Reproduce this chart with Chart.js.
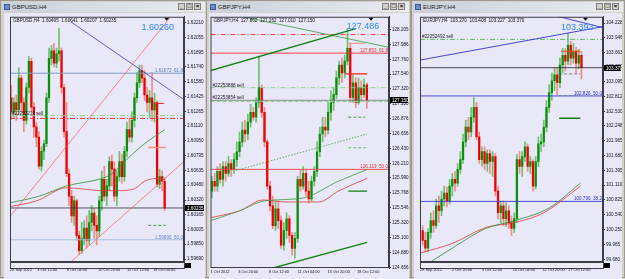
<!DOCTYPE html>
<html><head><meta charset="utf-8">
<script src="https://cdn.jsdelivr.net/npm/chart.js@4.4.0/dist/chart.umd.min.js"></script>
<style>
html,body{margin:0;padding:0;background:#d4d0c8;width:625px;height:279px;overflow:hidden;font-family:"Liberation Sans",Arial,sans-serif;}
.win{position:absolute;top:0;height:278px;background:#d4d0c8;border:1px solid #9c9a94;box-sizing:border-box;}
.tb{position:absolute;left:1px;right:1px;top:1px;height:10px;background:linear-gradient(to right,#c9cfdb,#e9ebf0);}
.tb span{position:absolute;left:10px;top:1px;font-size:6px;color:#222;line-height:8px;}
.tb i{position:absolute;left:2px;top:2px;width:6px;height:6px;background:#6a8cc8;border:1px solid #3a5a98;box-sizing:border-box;}
.bt{position:absolute;top:1px;width:7px;height:7px;background:#d4d0c8;border:1px solid #808080;box-sizing:border-box;font-size:6px;line-height:5px;text-align:center;color:#000;font-weight:bold;}
canvas{position:absolute;}
</style></head><body>
<div class="win" style="left:0;width:207px"><div class="tb"><i></i><span>GBPUSD,H4</span><b class="bt" style="right:20px">_</b><b class="bt" style="right:12px">□</b><b class="bt" style="right:4px">×</b></div></div>
<div class="win" style="left:206px;width:205px"><div class="tb"><i></i><span>GBPJPY,H4</span><b class="bt" style="right:20px">_</b><b class="bt" style="right:12px">□</b><b class="bt" style="right:4px">×</b></div></div>
<div class="win" style="left:411px;width:214px"><div class="tb"><i></i><span>EURJPY,H4</span><b class="bt" style="right:20px">_</b><b class="bt" style="right:12px">□</b><b class="bt" style="right:4px">×</b></div></div>
<canvas id="c1" width="201" height="266" style="left:4px;top:13px"></canvas>
<canvas id="c2" width="200" height="266" style="left:209px;top:13px"></canvas>
<canvas id="c3" width="208" height="266" style="left:414px;top:13px"></canvas>
<script>
// ================= GBPUSD,H4 =================
const gbpusdOpen = [1.6141,1.6126,1.6136,1.6128,1.6162,1.6136,1.6117,1.6152,1.6180,1.6131,
1.6110,1.6099,1.6068,1.6084,1.6092,1.6141,1.6183,1.6191,1.6178,1.6188,
1.6191,1.6152,1.6105,1.6060,1.6036,1.6015,1.6031,1.5994,1.5978,1.5991,
1.6002,1.5989,1.6008,1.6018,1.6005,1.5999,1.6031,1.6054,1.6036,1.6047,
1.6073,1.6065,1.6036,1.6057,1.6073,1.6057,1.6084,1.6107,1.6099,1.6117,
1.6141,1.6157,1.6170,1.6162,1.6144,1.6136,1.6141,1.6128,1.6136,1.6049,
1.6057,1.6052];
const gbpusdHigh = [1.6154,1.6141,1.6144,1.6173,1.6165,1.6141,1.6157,1.6185,1.6183,1.6136,
1.6115,1.6105,1.6089,1.6096,1.6146,1.6194,1.6197,1.6199,1.6194,1.6215,
1.6194,1.6155,1.6136,1.6065,1.6042,1.6036,1.6033,1.5999,1.6008,1.6010,
1.6015,1.6021,1.6026,1.6023,1.6015,1.6036,1.6063,1.6068,1.6054,1.6078,
1.6080,1.6073,1.6063,1.6084,1.6081,1.6089,1.6115,1.6120,1.6126,1.6146,
1.6168,1.6176,1.6176,1.6170,1.6152,1.6149,1.6168,1.6146,1.6138,1.6065,
1.6063,1.6056];
const gbpusdLow = [1.6118,1.6120,1.6117,1.6123,1.6126,1.6105,1.6113,1.6146,1.6126,1.6099,
1.6089,1.6065,1.6063,1.6075,1.6089,1.6136,1.6176,1.6174,1.6173,1.6180,
1.6146,1.6099,1.6057,1.6026,1.6008,1.6005,1.5989,1.5974,1.5975,1.5984,
1.5981,1.5984,1.5999,1.5991,1.5984,1.5993,1.6021,1.6031,1.6026,1.6042,
1.6047,1.6031,1.6026,1.6052,1.6050,1.6052,1.6078,1.6094,1.6094,1.6110,
1.6136,1.6152,1.6157,1.6138,1.6126,1.6120,1.6117,1.6115,1.6046,1.6044,
1.6042,1.6021];
const gbpusdClose = [1.6126,1.6136,1.6128,1.6162,1.6136,1.6117,1.6152,1.6180,1.6131,1.6110,
1.6099,1.6068,1.6084,1.6092,1.6141,1.6183,1.6191,1.6178,1.6188,1.6191,
1.6152,1.6105,1.6060,1.6036,1.6015,1.6031,1.5994,1.5978,1.5991,1.6002,
1.5989,1.6008,1.6018,1.6005,1.5999,1.6031,1.6054,1.6036,1.6047,1.6073,
1.6065,1.6036,1.6057,1.6073,1.6057,1.6084,1.6107,1.6099,1.6117,1.6141,
1.6157,1.6170,1.6162,1.6144,1.6136,1.6141,1.6128,1.6136,1.6049,1.6057,
1.6052,1.60235];
const gbpusdYTicks = ['1.62210','1.62055','1.61895','1.61740','1.61580','1.61425','1.61265','1.61110','1.60950','1.60795','1.60635','1.60480','1.60320','1.60165','1.60005','1.59850','1.59690'];
const gbpusdXTicks = ['28 Sep 2012','3 Oct 12:00','8 Oct 04:00','10 Oct 20:00','15 Oct 12:00','18 Oct 04:00'];
const gbpusdXTickBars = [-0.5, 10.3, 22.2, 34.5, 46, 56.4];
const gbpusdMaGreen = [[-0.5,1.6029],[11,1.6036],[22,1.6047],[36,1.6055],[40,1.6060],[47,1.6078],[53,1.6092],[61,1.6107]];
const gbpusdMaRed = [[-0.5,1.6025],[10,1.6031],[22,1.6045],[27.5,1.6044],[36,1.6042],[43,1.6042],[49,1.6044],[53,1.6052],[58,1.6055],[61,1.6054]];
const gbpusdBlueTrend = [[23.7,1.6222],[68.7,1.6139]];
const gbpusdRedTrendUp = [[-0.9,1.6013],[63.3,1.6227]];
const gbpusdRedTrendLow = [[23.7,1.5966],[68.7,1.6073]];
const gbpusdLevels = {fib618:1.61672, fib50:1.59896, sellGreen:1.6122, sellRed:1.6119, bid:1.60235};

// ================= GBPJPY,H4 =================
const gbpjpyOpen = [125.794,125.941,125.868,126.088,125.970,126.162,126.059,126.206,126.117,126.264,
126.382,126.529,126.705,126.647,126.823,126.970,126.897,127.117,127.338,126.970,
126.529,125.868,125.574,125.280,125.529,125.353,124.986,125.206,125.382,125.133,
124.941,125.088,125.970,125.868,126.059,125.794,125.676,125.941,126.088,126.382,
126.647,126.750,126.705,126.970,127.117,127.235,127.485,127.676,127.558,127.734,
127.926,127.191,127.411,127.117,127.338,127.235,127.382];
const gbpjpyHigh = [126.015,126.059,126.162,126.206,126.235,126.235,126.309,126.264,126.353,126.529,
126.676,126.823,126.852,126.941,127.088,127.044,127.191,127.808,127.382,127.044,
126.558,125.941,125.721,125.647,125.647,125.427,125.324,125.471,125.427,125.177,
125.177,126.015,126.117,126.162,126.117,125.941,126.015,126.162,126.529,126.750,
126.897,126.897,127.117,127.293,127.338,127.587,127.734,127.779,127.823,128.220,
127.999,127.529,127.485,127.485,127.440,127.470,127.411];
const gbpjpyLow = [125.691,125.794,125.794,125.912,125.868,125.941,126.015,126.015,126.059,126.162,
126.309,126.456,126.529,126.558,126.750,126.852,126.823,127.044,126.897,126.456,
125.823,125.500,125.235,125.206,125.235,124.941,124.912,125.088,125.030,124.839,
124.794,125.030,125.794,125.823,125.721,125.618,125.647,125.868,126.015,126.309,
126.529,126.603,126.647,126.852,126.999,127.176,127.382,127.411,127.485,127.676,
127.117,127.117,127.044,127.088,127.146,127.191,127.029];
const gbpjpyClose = [125.941,125.868,126.088,125.970,126.162,126.059,126.206,126.117,126.264,126.382,
126.529,126.705,126.647,126.823,126.970,126.897,127.117,127.338,126.970,126.529,
125.868,125.574,125.280,125.529,125.353,124.986,125.206,125.382,125.133,124.941,
125.088,125.970,125.868,126.059,125.794,125.676,125.941,126.088,126.382,126.647,
126.750,126.705,126.970,127.117,127.235,127.485,127.676,127.558,127.734,127.926,
127.191,127.411,127.117,127.338,127.235,127.382,127.150];
const gbpjpyYTicks = ['128.205','127.986','127.760','127.540','127.320','127.100','126.876','126.656','126.430','126.210','125.990','125.768','125.546','125.320','125.100','124.880','124.656'];
const gbpjpyXTicks = ['1 Oct 2012','3 Oct 20:00','8 Oct 12:00','11 Oct 04:00','15 Oct 20:00','18 Oct 12:00'];
const gbpjpyXTickBars = [-0.5, 9.5, 20.6, 31.0, 41.8, 52.5];
const gbpjpyMaGreen = [[-0.5,125.353],[10,125.500],[18.8,125.647],[32.8,125.691],[45.7,125.941],[56.1,126.117]];
const gbpjpyMaRed = [[-0.5,125.397],[10,125.500],[18.5,125.662],[26.7,125.632],[38.6,125.632],[45.7,125.794],[56.1,125.985]];
const gbpjpyThickTrend = [[-0.9,127.587],[52,128.220]];
const gbpjpyThinTrend = [[11.3,128.396],[64,127.940]];
const gbpjpyDottedTrend = [[8.8,126.103],[56.1,126.647]];
const gbpjpyLowTrend = [[22.1,124.648],[56.1,125.030]];
const gbpjpyLevels = {dashTop:128.131, fib618:127.853, sell1:127.338, sell2:127.132, bid:127.150, fib50:126.119};

// ================= EURJPY,H4 =================
const eurjpyOpen = [100.237,100.047,99.896,100.199,100.426,100.332,100.711,100.616,100.843,100.957,
100.805,101.090,101.222,101.147,101.412,101.601,101.943,102.227,102.132,102.416,
102.606,102.037,101.601,101.753,101.526,101.715,101.564,101.658,100.995,100.578,
100.711,100.464,100.616,100.388,100.275,100.464,101.601,101.469,101.658,101.848,
101.469,101.564,101.090,101.564,101.905,101.943,102.227,102.606,102.890,103.118,
103.231,103.080,103.421,103.610,103.497,103.800,103.554,103.686,103.459,103.610];
const eurjpyHigh = [100.332,100.199,100.275,100.578,100.616,100.843,100.900,100.995,101.090,101.071,
101.222,101.336,101.374,101.526,101.753,102.094,102.360,102.416,102.606,102.796,
102.701,102.132,101.848,101.848,101.791,101.791,101.753,101.715,101.090,100.805,
100.805,100.768,100.711,100.521,100.578,101.696,101.753,101.753,101.943,101.905,
101.658,101.601,101.658,102.037,102.094,102.360,102.739,103.042,103.269,103.364,
103.364,103.554,103.743,103.743,104.027,103.876,103.838,103.762,103.724,103.686];
const eurjpyLow = [99.953,99.820,99.820,100.085,100.199,100.275,100.388,100.521,100.711,100.692,
100.749,100.900,100.995,101.090,101.336,101.526,101.848,101.981,102.037,102.322,
101.981,101.526,101.469,101.412,101.374,101.336,101.279,100.900,100.464,100.388,
100.332,100.313,100.275,100.142,100.199,100.388,101.336,101.279,101.564,101.374,
101.336,100.995,101.033,101.469,101.753,101.848,102.132,102.511,102.739,102.928,
102.852,102.985,103.269,103.307,103.421,103.421,103.459,103.269,103.345,103.156];
const eurjpyClose = [100.047,99.896,100.199,100.426,100.332,100.711,100.616,100.843,100.957,100.805,
101.090,101.222,101.147,101.412,101.601,101.943,102.227,102.132,102.416,102.606,
102.037,101.601,101.753,101.526,101.715,101.564,101.658,100.995,100.578,100.711,
100.464,100.616,100.388,100.275,100.464,101.601,101.469,101.658,101.848,101.469,
101.564,101.090,101.564,101.905,101.943,102.227,102.606,102.890,103.118,103.231,
103.080,103.421,103.610,103.497,103.800,103.554,103.686,103.459,103.610,103.370];
const eurjpyYTicks = ['104.228','103.946','103.663','103.380','103.095','102.812','102.530','102.248','101.965','101.680','101.395','101.110','100.825','100.540','100.250','99.965','99.680'];
const eurjpyXTicks = ['28 Sep 2012','2 Oct 20:00','5 Oct 12:00','10 Oct 04:00','12 Oct 20:00','17 Oct 12:00'];
const eurjpyXTickBars = [-1, 10.9, 22.0, 33.5, 44.5, 54];
const eurjpyMaGreen = [[2.9,99.630],[12,99.930],[23.4,100.275],[34.2,100.426],[47.1,100.673],[58.6,101.147]];
const eurjpyMaRed = [[-1,99.801],[11.2,99.991],[23.4,100.294],[34.2,100.388],[45,100.578],[58.6,101.090]];
const eurjpyBlueUp = [[-1,103.516],[67,104.160]];
const eurjpyBlueDown = [[50.7,104.350],[67,104.141]];
const eurjpyLevels = {sell:103.914, bid:103.370, fib50:102.826, fib382:100.796};

// ================= helpers =================
const FONT = '"Liberation Sans", Arial, sans-serif';
function candles(open, high, low, close) {
  const wick = [], body = [], wc = [], bc = [];
  for (let i = 0; i < close.length; i++) {
    const up = close[i] >= open[i];
    wick.push({x: i, y: [low[i], high[i]]});
    body.push({x: i, y: [open[i], close[i]]});
    wc.push(up ? '#6fbf6f' : '#f28a8a');
    bc.push(up ? '#0b8f0b' : '#f20000');
  }
  return [
    {type:'bar', data: wick, backgroundColor: wc, barThickness: 1, grouped: false, order: 6},
    {type:'bar', data: body, backgroundColor: bc, barThickness: 1.6, minBarLength: 1, grouped: false, order: 5}
  ];
}
function line(pts, color, width, dash, smooth, order) {
  return {type:'line', data: pts.map(p => ({x:p[0], y:p[1]})), borderColor: color, borderWidth: width,
    borderDash: dash || [], pointRadius: 0, fill: false, tension: smooth ? 0.35 : 0,
    cubicInterpolationMode: smooth ? 'monotone' : 'default', order: order == null ? 2 : order};
}
function hline(x0, x1, v, color, width, dash, order) { return line([[x0, v], [x1, v]], color, width, dash, false, order); }

const mtPlugin = {
  id: 'mt',
  beforeDraw(chart, args, o) {
    const {ctx, width, height, chartArea: a} = chart;
    ctx.save();
    ctx.fillStyle = '#e8e8f8';
    ctx.fillRect(0, 0, width, height);
    if (o.strip) {
      ctx.strokeStyle = '#404048'; ctx.lineWidth = 1;
      ctx.strokeRect(a.left + 0.5, a.bottom + 0.5, a.right - a.left, 6);
      ctx.setLineDash([1, 1]); ctx.strokeStyle = '#ffffff';
      ctx.strokeRect(a.left + 2.5, a.bottom + 2.5, a.right - a.left - 6, 3);
      ctx.setLineDash([]);
      ctx.fillStyle = '#000'; ctx.fillRect(a.right + 1, a.bottom + 1, 6, 5);
    }
    ctx.restore();
  },
  afterDatasetsDraw(chart, args, o) {
    const {ctx, chartArea: a, scales: {x, y}} = chart;
    ctx.save();
    ctx.font = '4.6px ' + FONT;
    ctx.textBaseline = 'alphabetic';
    (o.labels || []).forEach(l => {
      ctx.fillStyle = l.color;
      const py = y.getPixelForValue(l.y) - 1;
      if (l.align === 'left') { ctx.textAlign = 'left'; ctx.fillText(l.text, a.left + 2, py); }
      else { ctx.textAlign = 'right'; ctx.fillText(l.text, a.right - 1, py); }
    });
    if (o.big) {
      ctx.font = '9px ' + FONT; ctx.fillStyle = '#2f8cf2'; ctx.textAlign = 'left'; ctx.textBaseline = 'middle';
      ctx.fillText(o.big.text, x.getPixelForValue(o.big.x), y.getPixelForValue(o.big.y));
    }
    ctx.font = '4.6px ' + FONT; ctx.fillStyle = '#101010'; ctx.textAlign = 'left'; ctx.textBaseline = 'top';
    ctx.fillText(o.info, a.left + 3, a.top + 2);
    const mx = x.getPixelForValue(o.marker);
    ctx.fillStyle = '#000';
    ctx.beginPath(); ctx.moveTo(mx - 2.5, a.top + 1); ctx.lineTo(mx + 2.5, a.top + 1); ctx.lineTo(mx, a.top + 4); ctx.closePath(); ctx.fill();
    ctx.restore();
  },
  afterDraw(chart, args, o) {
    const {ctx, width, chartArea: a, scales: {y}} = chart;
    ctx.save();
    ctx.strokeStyle = '#3c3c44'; ctx.lineWidth = 1;
    ctx.strokeRect(a.left + 0.5, a.top + 0.5, a.right - a.left - 1, a.bottom - a.top - 1);
    const py = Math.round(y.getPixelForValue(o.current));
    ctx.fillStyle = '#000';
    ctx.fillRect(a.right + 1, py - 3, width - a.right - 2, 6);
    ctx.fillStyle = '#fff'; ctx.font = '4.6px ' + FONT; ctx.textAlign = 'left'; ctx.textBaseline = 'middle';
    ctx.fillText(o.currentLabel, a.right + 3, py + 0.3);
    ctx.restore();
  }
};

function makeChart(id, c) {
  return new Chart(document.getElementById(id), {
    type: 'bar',
    data: {datasets: c.datasets},
    options: {
      responsive: false, animation: false, events: [],
      layout: {padding: 0},
      plugins: {legend: {display: false}, tooltip: {enabled: false}, mt: c.mt},
      scales: {
        x: {type: 'linear', min: c.xmin, max: c.xmax, offset: false,
          afterFit(s) { s.height = c.xh; },
          afterBuildTicks(s) { s.ticks = c.xBars.map(v => ({value: v})); },
          ticks: {autoSkip: false, maxRotation: 0, align: 'start', padding: c.xpad, color: '#101028',
            font: {family: FONT, size: 3.9}, callback: (v, i) => c.xTicks[i]},
          grid: {display: true, offset: false, drawOnChartArea: false, drawTicks: false},
          border: {display: false}},
        y: {type: 'linear', position: 'right', min: c.ymin, max: c.ymax,
          afterFit(s) { s.width = c.yw; },
          afterBuildTicks(s) { s.ticks = c.yTicks.map(t => ({value: parseFloat(t)})); },
          ticks: {autoSkip: false, padding: 1, color: '#101028', font: {family: FONT, size: 4.6},
            callback: (v, i) => c.yTicks[i]},
          grid: {drawOnChartArea: false, drawTicks: true, tickLength: 2, color: '#3c3c44'},
          border: {display: true, color: '#3c3c44'}}
      }
    },
    plugins: [mtPlugin]
  });
}

// ---------- panel 1 ----------
(function () {
  const x0 = -0.5, x1 = 68.7, L = gbpusdLevels;
  makeChart('c1', {
    xmin: x0, xmax: x1, ymin: 1.59659, ymax: 1.62274, xh: 17, yw: 21, xpad: 6,
    xTicks: gbpusdXTicks, xBars: gbpusdXTickBars, yTicks: gbpusdYTicks,
    datasets: [
      ...candles(gbpusdOpen, gbpusdHigh, gbpusdLow, gbpusdClose),
      line(gbpusdMaGreen, '#2e8b2e', 0.8, [], true),
      line(gbpusdMaRed, '#e53a3a', 0.8, [], true),
      line(gbpusdBlueTrend, '#3a3ac8', 0.8),
      line(gbpusdRedTrendUp, '#ff5a5a', 0.7),
      line(gbpusdRedTrendLow, '#ff5a5a', 0.7),
      hline(x0, x1, L.fib618, '#7f9bc6', 1),
      hline(x0, x1, L.fib50, '#a8bee0', 1),
      hline(x0, x1, L.sellGreen, '#8cd08c', 1, [5, 2, 1, 2]),
      hline(x0, x1, L.sellRed, '#ff3030', 1, [5, 2, 1, 2]),
      hline(x0, x1, L.bid, '#303038', 0.8),
      hline(54.5, 61.4, 1.6088, '#f4907a', 1.6),
      hline(56.8, 60.7, 1.6135, '#ff2020', 1),
      hline(54.5, 61.4, 1.6005, '#3c9a3c', 1, [3, 2])
    ],
    mt: {info: 'GBPUSD,H4  1.60495  1.60641  1.60207  1.60235', current: L.bid, currentLabel: '1.60235',
      big: {text: '1.60260', x: 51.8, y: 1.6216}, strip: true, marker: 61.8,
      labels: [{text: '1.61672  61.8', y: L.fib618, color: '#5a7ab8'}, {text: '1.59896  50.0', y: L.fib50, color: '#6a8ac4'},
               {text: '#22252219 sell', y: L.sellGreen, color: '#202020', align: 'left'}]}
  });
})();

// ---------- panel 2 ----------
(function () {
  const x0 = -0.5, x1 = 64, L = gbpjpyLevels;
  makeChart('c2', {
    xmin: x0, xmax: x1, ymin: 124.647, ymax: 128.396, xh: 11, yw: 20, xpad: 1.5,
    xTicks: gbpjpyXTicks, xBars: gbpjpyXTickBars, yTicks: gbpjpyYTicks,
    datasets: [
      ...candles(gbpjpyOpen, gbpjpyHigh, gbpjpyLow, gbpjpyClose),
      line(gbpjpyMaGreen, '#3c9a3c', 0.8, [], true),
      line(gbpjpyMaRed, '#e53a3a', 0.8, [], true),
      line(gbpjpyThickTrend, '#138013', 1.4),
      line(gbpjpyThinTrend, '#3c9a3c', 0.8),
      line(gbpjpyDottedTrend, '#3c9a3c', 0.8, [1.5, 1.5]),
      line(gbpjpyLowTrend, '#138013', 1.4),
      hline(x0, x1, L.dashTop, '#ff3030', 0.9, [5, 2, 1, 2]),
      hline(x0, x1, L.fib618, '#ff3030', 0.9),
      hline(x0, x1, L.sell1, '#8cd08c', 1, [5, 2, 1, 2]),
      hline(x0, x1, L.sell2, '#8cd08c', 1, [4, 2]),
      hline(x0, x1, L.bid, '#707078', 0.8),
      hline(x0, x1, L.fib50, '#e84040', 0.9),
      hline(48.2, 56.1, 127.543, '#ff2020', 1.2),
      hline(49.3, 55.4, 128.000, '#f4907a', 1),
      hline(49.3, 55.4, 126.897, '#3c9a3c', 1, [3, 2]),
      hline(49.3, 56.1, 126.441, '#6abf6a', 1, [3, 2]),
      hline(49.3, 56.1, 125.794, '#138013', 1.4)
    ],
    mt: {info: 'GBPJPY,H4  127.862  127.352  127.010  127.150', current: L.bid, currentLabel: '127.150',
      big: {text: '127.486', x: 48.7, y: 128.250}, strip: false, marker: 57.5,
      labels: [{text: '127.853  61.8', y: L.fib618, color: '#e83030'}, {text: '126.119  50.0', y: L.fib50, color: '#e83030'},
               {text: '#22253888 sell', y: L.sell1, color: '#202020', align: 'left'},
               {text: '#22253854 sell', y: L.bid, color: '#202020', align: 'left'}]}
  });
})();

// ---------- panel 3 ----------
(function () {
  const x0 = -1, x1 = 67, L = eurjpyLevels;
  makeChart('c3', {
    xmin: x0, xmax: x1, ymin: 99.630, ymax: 104.350, xh: 17, yw: 19, xpad: 6,
    xTicks: eurjpyXTicks, xBars: eurjpyXTickBars, yTicks: eurjpyYTicks,
    datasets: [
      ...candles(eurjpyOpen, eurjpyHigh, eurjpyLow, eurjpyClose),
      line(eurjpyMaGreen, '#2e8b2e', 0.8, [], true),
      line(eurjpyMaRed, '#e53a3a', 0.8, [], true),
      line(eurjpyBlueUp, '#3434c8', 0.9),
      line(eurjpyBlueDown, '#3434c8', 0.9),
      hline(x0, x1, L.sell, '#5cc05c', 1, [5, 2, 1, 2]),
      hline(x0, x1, L.bid, '#202028', 0.8),
      hline(x0, x1, L.fib50, '#3a3ad0', 0.9),
      hline(x0, x1, L.fib382, '#3a3ad0', 0.9),
      hline(51.4, 58.6, 103.686, '#ff4020', 1),
      hline(50.7, 58.6, 102.397, '#138013', 1.4),
      hline(50.7, 58.6, 102.833, '#a8c8a8', 1, [3, 2]),
      hline(50.7, 58.6, 103.250, '#606060', 0.8, [3, 2])
    ],
    mt: {info: 'EURJPY,H4  103.270  103.408  103.227  103.370', current: L.bid, currentLabel: '103.370',
      big: {text: '103.393', x: 51.4, y: 104.141}, strip: true, marker: 60.5,
      labels: [{text: '102.826  50.0', y: L.fib50, color: '#3030c8'}, {text: '100.796  38.2', y: L.fib382, color: '#3030c8'},
               {text: '#22252492 sell', y: L.sell, color: '#202020', align: 'left'}]}
  });
})();
</script>
</body></html>
